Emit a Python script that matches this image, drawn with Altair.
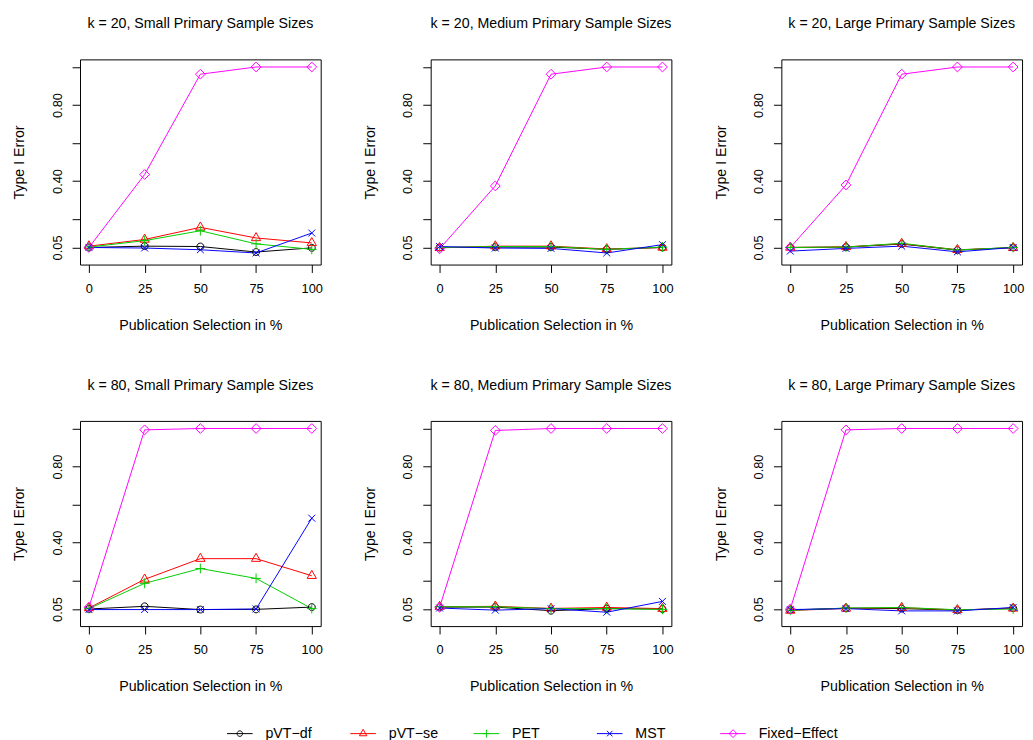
import altair as alt
import pandas as pd

# ---------------- data ----------------
x_vals = [0, 25, 50, 75, 100]
methods = ["pVT−df", "pVT−se", "PET", "MST", "Fixed−Effect"]
method_colors = ["#000000", "#FF0000", "#00CD00", "#0000FF", "#FF00FF"]
y_ticks = [0.05, 0.2, 0.4, 0.6, 0.8, 1.0]

panel_titles = [
    "k = 20, Small Primary Sample Sizes",
    "k = 20, Medium Primary Sample Sizes",
    "k = 20, Large Primary Sample Sizes",
    "k = 80, Small Primary Sample Sizes",
    "k = 80, Medium Primary Sample Sizes",
    "k = 80, Large Primary Sample Sizes",
]

k20_small = {
    "pVT−df": [0.050, 0.057, 0.055, 0.026, 0.048],
    "pVT−se": [0.057, 0.092, 0.156, 0.100, 0.074],
    "PET": [0.052, 0.086, 0.138, 0.069, 0.040],
    "MST": [0.050, 0.047, 0.038, 0.021, 0.126],
    "Fixed−Effect": [0.050, 0.434, 0.962, 1.000, 1.000],
}
k20_medium = {
    "pVT−df": [0.050, 0.052, 0.052, 0.040, 0.050],
    "pVT−se": [0.048, 0.057, 0.057, 0.042, 0.050],
    "PET": [0.050, 0.055, 0.055, 0.040, 0.052],
    "MST": [0.055, 0.047, 0.045, 0.021, 0.065],
    "Fixed−Effect": [0.043, 0.374, 0.962, 1.000, 1.000],
}
k20_large = {
    "pVT−df": [0.050, 0.052, 0.068, 0.036, 0.050],
    "pVT−se": [0.050, 0.053, 0.070, 0.038, 0.048],
    "PET": [0.050, 0.052, 0.072, 0.037, 0.050],
    "MST": [0.031, 0.045, 0.057, 0.027, 0.050],
    "Fixed−Effect": [0.050, 0.379, 0.962, 1.000, 1.000],
}
k80_small = {
    "pVT−df": [0.050, 0.064, 0.047, 0.048, 0.060],
    "pVT−se": [0.055, 0.206, 0.315, 0.315, 0.225],
    "PET": [0.052, 0.185, 0.263, 0.211, 0.052],
    "MST": [0.047, 0.047, 0.047, 0.050, 0.528],
    "Fixed−Effect": [0.059, 0.993, 1.000, 1.000, 1.000],
}
k80_medium = {
    "pVT−df": [0.060, 0.060, 0.041, 0.052, 0.050],
    "pVT−se": [0.062, 0.064, 0.053, 0.058, 0.052],
    "PET": [0.062, 0.062, 0.052, 0.052, 0.048],
    "MST": [0.055, 0.044, 0.052, 0.033, 0.090],
    "Fixed−Effect": [0.059, 0.990, 1.000, 1.000, 1.000],
}
k80_large = {
    "pVT−df": [0.045, 0.054, 0.052, 0.044, 0.055],
    "pVT−se": [0.042, 0.053, 0.057, 0.045, 0.053],
    "PET": [0.043, 0.055, 0.058, 0.046, 0.050],
    "MST": [0.047, 0.052, 0.040, 0.040, 0.058],
    "Fixed−Effect": [0.050, 0.993, 1.000, 1.000, 1.000],
}
panel_data = [k20_small, k20_medium, k20_large, k80_small, k80_medium, k80_large]

# R-style open symbols: circle, triangle, plus, x, diamond
shape_paths = [
    "M0.7,0A0.7,0.7,0,1,1,-0.7,0A0.7,0.7,0,1,1,0.7,0Z",
    "M0,-1.09L0.94,0.545L-0.94,0.545Z",
    "M-0.99,0L0.99,0M0,-0.99L0,0.99",
    "M-0.7,-0.7L0.7,0.7M-0.7,0.7L0.7,-0.7",
    "M0,-0.99L0.99,0L0,0.99L-0.99,0Z",
]

FONT = "Liberation Sans"
W, H = 244, 208
COL_GAP = 111.5

color_scale = alt.Scale(domain=methods, range=method_colors)
shape_scale = alt.Scale(domain=methods, range=shape_paths)


def make_panel(title, values):
    rows = []
    for m in methods:
        for xv, yv in zip(x_vals, values[m]):
            rows.append({"sel": xv, "err": yv, "method": m})
    df = pd.DataFrame(rows)
    x = alt.X(
        "sel:Q",
        scale=alt.Scale(domain=[-4, 104], nice=False, zero=False),
        axis=alt.Axis(
            values=x_vals, title="Publication Selection in %",
            titleX=W / 2, titleY=65.5, titleAlign="center", titleBaseline="alphabetic",
            labelPadding=10, labelFlush=False, labelOverlap=False,
        ),
    )
    y = alt.Y(
        "err:Q",
        scale=alt.Scale(domain=[-0.04, 1.04], nice=False, zero=False),
        axis=alt.Axis(
            values=y_ticks, title="Type I Error",
            labelExpr="(datum.value == 0.05 || datum.value == 0.4 || datum.value == 0.8) ? format(datum.value, '.2f') : ''",
            labelAngle=-90, labelAlign="center", labelBaseline="alphabetic",
            labelPadding=11, labelFlush=False, labelOverlap=False,
            titleAngle=270, titleX=-57, titleY=H / 2, titleAlign="center",
            titleBaseline="alphabetic",
        ),
    )
    color = alt.Color("method:N", scale=color_scale, legend=None)
    lines = alt.Chart(df).mark_line(strokeWidth=1).encode(x=x, y=y, color=color)
    pts = alt.Chart(df).mark_point(filled=False, strokeWidth=1, size=100, opacity=1).encode(
        x=x, y=y, color=color,
        shape=alt.Shape("method:N", scale=shape_scale, legend=None),
    )
    return alt.layer(lines, pts).properties(
        width=W, height=H,
        title=alt.TitleParams(
            title, fontSize=14.4, fontWeight="normal", font=FONT, anchor="middle",
            offset=17, baseline="alphabetic", color="black",
        ),
    )


panels = [make_panel(t, d) for t, d in zip(panel_titles, panel_data)]

grid = alt.concat(
    *panels, columns=3, bounds="flush",
    spacing=alt.RowColnumber(row=158.5, column=COL_GAP),
)

# ---------------- legend (drawn through a point scale) ----------------
leg_df = pd.DataFrame({"method": methods})
lx = alt.X(
    "method:N",
    scale=alt.Scale(type="point", domain=methods, range=[162, 662], padding=0),
    axis=None,
)
lcolor = alt.Color("method:N", scale=color_scale, legend=None)
leg_rule = alt.Chart(leg_df).mark_rule(strokeWidth=1, xOffset=-13, x2Offset=13).encode(
    x=lx, x2=alt.X2("method:N"), y=alt.value(10), color=lcolor
)
leg_pts = alt.Chart(leg_df).mark_point(filled=False, strokeWidth=1, size=64, opacity=1).encode(
    x=lx, y=alt.value(10), color=lcolor,
    shape=alt.Shape("method:N", scale=shape_scale, legend=None),
)
leg_text = alt.Chart(leg_df).mark_text(
    align="left", baseline="middle", dx=26, fontSize=14.4, font=FONT, color="black"
).encode(x=lx, y=alt.value(10), text="method:N")
legend = alt.layer(leg_rule, leg_pts, leg_text).properties(
    width=3 * W + 2 * COL_GAP, height=20, view=alt.ViewBackground(stroke="transparent")
)

chart = alt.vconcat(grid, legend, spacing=29.5).properties(
    padding={"left": 3, "top": 3, "right": 0, "bottom": 0}
).configure(font=FONT).configure_view(
    stroke="black", strokeWidth=1
).configure_axis(
    grid=False, domain=False, tickColor="black", tickSize=8, tickWidth=1,
    labelFont=FONT, labelFontSize=13, labelColor="black",
    titleFont=FONT, titleFontSize=14.4, titleFontWeight="normal", titleColor="black",
)

chart.save("out.html", embed_options={"renderer": "svg", "actions": False})
